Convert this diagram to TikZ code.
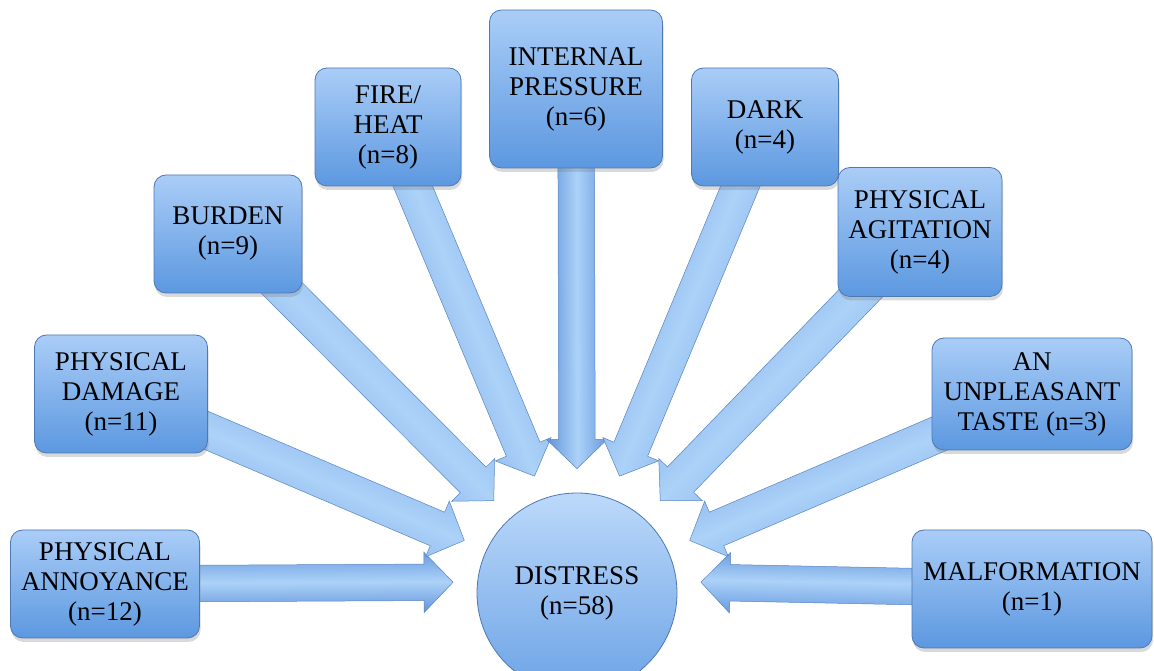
\documentclass[tikz,border=0pt]{standalone}
\usepackage{fontspec}
\setmainfont{Liberation Serif}
\usetikzlibrary{positioning,calc,shapes.arrows,shadows,backgrounds}

\definecolor{boxtop}{RGB}{170,205,247}
\definecolor{boxbot}{RGB}{92,152,224}
\definecolor{boxline}{RGB}{78,120,180}
\definecolor{hubtop}{RGB}{188,217,250}
\definecolor{hubbot}{RGB}{108,163,230}
\definecolor{flowtop}{RGB}{104,154,224}
\definecolor{flowmid}{RGB}{172,210,248}
\definecolor{flowbot}{RGB}{98,148,218}
\definecolor{flowline}{RGB}{90,132,194}

\begin{document}
\begin{tikzpicture}[x=1pt, y=1pt,
  cause/.style={draw=boxline, line width=0.8pt, rounded corners=12pt,
    top color=boxtop, bottom color=boxbot, align=center, inner sep=2pt,
    font=\fontsize{27}{30}\selectfont,
    drop shadow={opacity=0.3, shadow xshift=1pt, shadow yshift=-4pt}},
  hub/.style={circle, draw=boxline, line width=0.8pt, top color=hubtop,
    bottom color=hubbot, minimum size=200pt, align=center,
    font=\fontsize{27}{30}\selectfont},
  flow/.style={single arrow, draw=flowline, line width=0.5pt,
    inner xsep=0pt, inner ysep=18pt, single arrow head extend=12pt,
    single arrow tip angle=92, top color=flowtop, bottom color=flowbot,
    middle color=flowmid}]
\useasboundingbox (0,0) rectangle (1154,671);

% centre
\node[hub] (dis) at (577,78) {DISTRESS\\(n=58)};

% causes, left to right
\node[cause, minimum width=189pt, minimum height=108pt] (annoy) at (105,87) {PHYSICAL\\ANNOYANCE\\(n=12)};
\node[cause, minimum width=173pt, minimum height=118pt] (damage) at (121,277) {PHYSICAL\\DAMAGE\\(n=11)};
\node[cause, minimum width=148pt, minimum height=118pt] (burden) at (228,437) {BURDEN\\(n=9)};
\node[cause, minimum width=146pt, minimum height=118pt] (fire) at (388,544) {FIRE/\\HEAT\\(n=8)};
\node[cause, minimum width=173pt, minimum height=158pt] (press) at (576,582) {INTERNAL\\PRESSURE\\(n=6)};
\node[cause, minimum width=147pt, minimum height=118pt] (dark) at (765,544) {DARK\\(n=4)};
\node[cause, minimum width=164pt, minimum height=129pt] (agit) at (920,439) {PHYSICAL\\AGITATION\\(n=4)};
\node[cause, minimum width=200pt, minimum height=112pt] (taste) at (1032,277) {AN\\UNPLEASANT\\TASTE (n=3)};
\node[cause, minimum width=240pt, minimum height=118pt] (malf) at (1032,82) {MALFORMATION\\(n=1)};

% where each arrow stops, around the centre
\foreach \b/\a in {annoy/175, damage/155, burden/132, fire/110, press/90,
                   dark/70, agit/48, taste/25, malf/5}
  \coordinate (\b-tip) at ($(dis.center)+(\a:124)$);

% block arrows, behind the boxes; the shading is turned with the arrow
\begin{scope}[on background layer]
\foreach \b in {annoy, damage, burden, fire, press, dark, agit, taste, malf}
  \path let \p1=(\b.center), \p2=(\b-tip),
    \n1={atan2(\y2-\y1,\x2-\x1)}, \n2={veclen(\x2-\x1,\y2-\y1)} in
    node[flow, rotate=\n1, shading angle=\n1, minimum height=\n2,
      anchor=tip] at (\p2) {};
\end{scope}
\end{tikzpicture}
\end{document}
